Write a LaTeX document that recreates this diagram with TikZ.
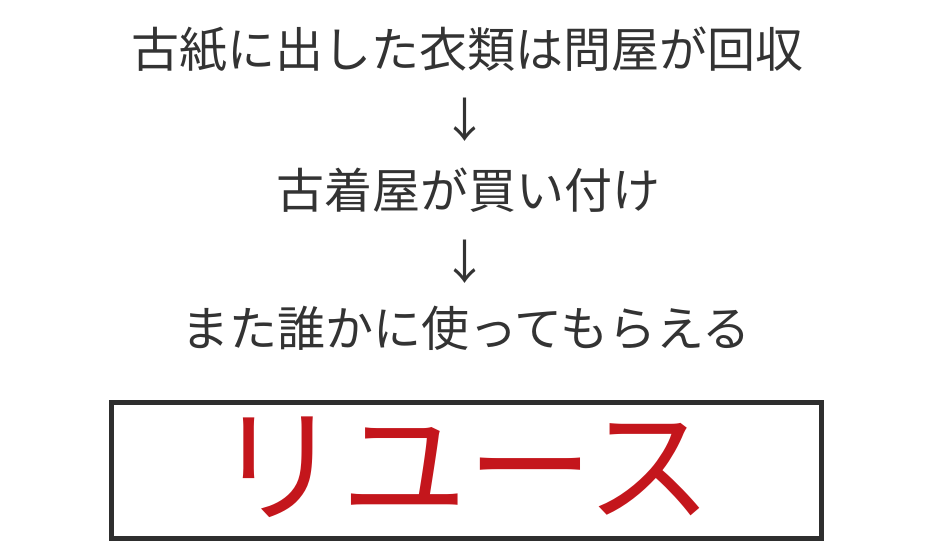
\documentclass[tikz,border=0pt]{standalone}
\usepackage{fontspec}
\setmainfont{Noto Sans CJK JP}
\definecolor{txtgray}{HTML}{333333}
\definecolor{boxgray}{HTML}{2E2E2E}
\definecolor{reusered}{HTML}{C4161C}
\begin{document}
\begin{tikzpicture}[x=1pt,y=1pt,
  line/.style={font=\fontsize{48}{52}\selectfont, text=txtgray, inner sep=0pt, anchor=center},
  arrowtxt/.style={font=\fontsize{47}{50}\selectfont, text=txtgray, inner sep=0pt, anchor=center},
  reusebox/.style={draw=boxgray, line width=5pt},
  bigtxt/.style={font=\fontsize{126}{130}\selectfont, text=reusered, inner sep=0pt, anchor=center}]
\useasboundingbox (0,0) rectangle (950,553);
\node[line] (l1) at (467,503) {古紙に出した衣類は問屋が回収};
\node[arrowtxt] (a1) at (465,433) {↓};
\node[line] (l2) at (468,363) {古着屋が買い付け};
\node[arrowtxt] (a2) at (465,291) {↓};
\node[line] (l3) at (466,225) {また誰かに使ってもらえる};
\draw[reusebox] (111,14) rectangle (821,150);
\node[bigtxt] (r) at (464,86) {リユース};
\end{tikzpicture}
\end{document}
